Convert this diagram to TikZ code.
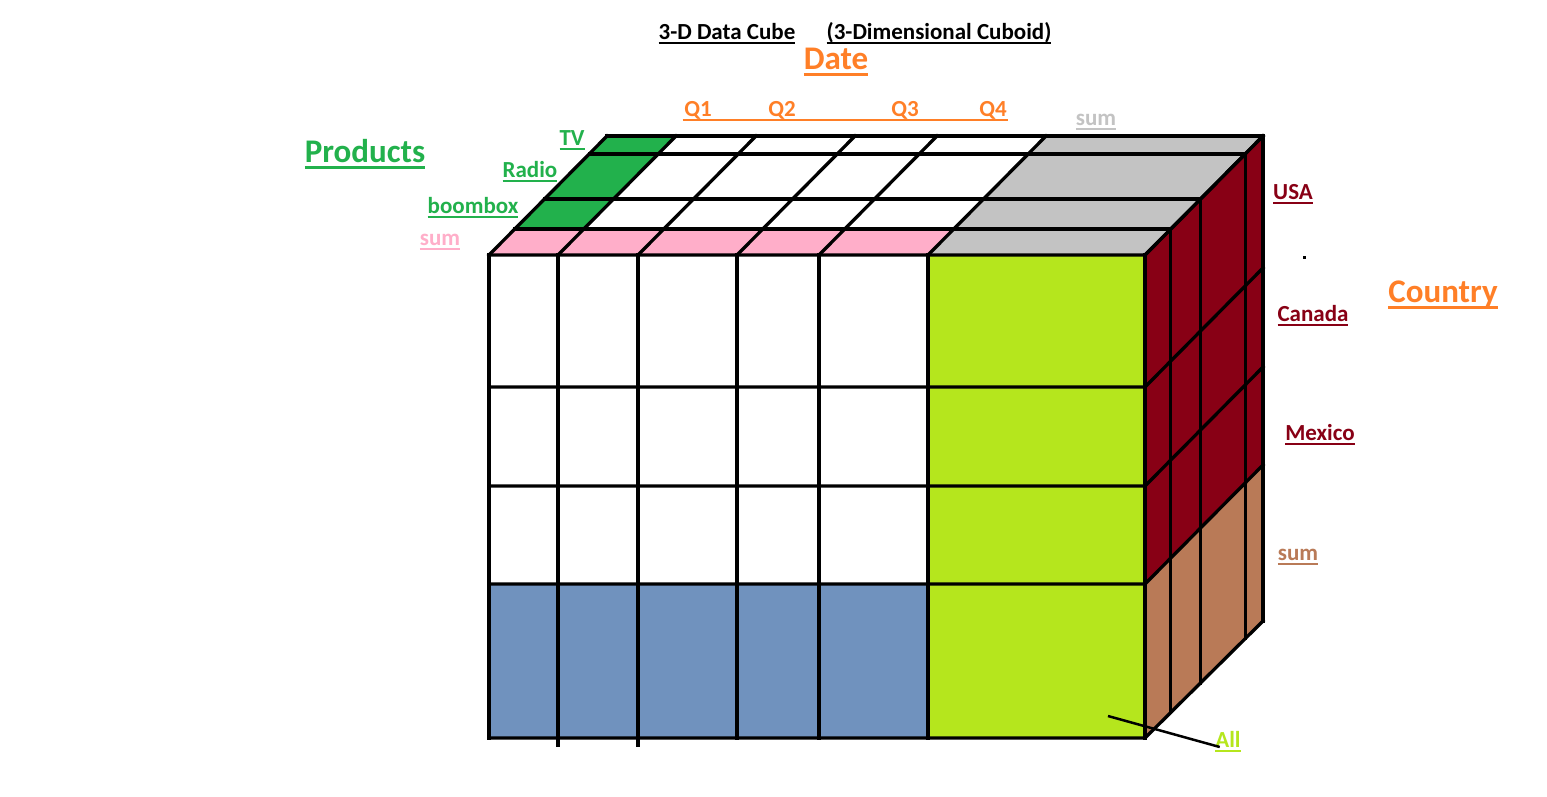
\documentclass[tikz,border=0pt]{standalone}
\usepackage{fontspec}
\setmainfont{Carlito}
\usetikzlibrary{positioning}
\definecolor{pgreen}{HTML}{22B14C}
\definecolor{ppink}{HTML}{FFAEC9}
\definecolor{pgray}{HTML}{C3C3C3}
\definecolor{plime}{HTML}{B5E61D}
\definecolor{pmaroon}{HTML}{880015}
\definecolor{pbrown}{HTML}{B97A57}
\definecolor{pblue}{HTML}{7092BE}
\definecolor{porange}{HTML}{FF7F27}
\newsavebox{\ulbox}
\newcommand{\undr}[1]{\sbox\ulbox{#1}\rlap{\rule[-5pt]{\wd\ulbox}{2pt}}\usebox\ulbox}
\newcommand{\Undr}[1]{\sbox\ulbox{#1}\rlap{\rule[-7pt]{\wd\ulbox}{3pt}}\usebox\ulbox}

\begin{document}
\begin{tikzpicture}[x=1pt, y=-1pt, line width=3.3pt, line cap=rect]
  \tikzset{
    lbl/.style={inner sep=0pt, anchor=base,
      font=\bfseries\fontsize{23}{23}\selectfont},
    big/.style={lbl, font=\bfseries\fontsize{33}{33}\selectfont},
    pointer/.style={line width=2.5pt, line cap=butt},
  }
  \fill[white] (0,0) rectangle (1547,796);
  \useasboundingbox (0,0) rectangle (1547,796);
  % Fills: front face
  \fill[pblue] (489,584) rectangle (928,738);
  \fill[plime] (928,255) rectangle (1145,738);
  % Fills: top face
  \fill[pgreen] (514.7,229.1) -- (583.7,229.1) -- (676,136) -- (607,136) -- cycle;
  \fill[ppink]  (489,255) -- (928,255) -- (953.7,229.1) -- (514.7,229.1) -- cycle;
  \fill[pgray]  (928,255) -- (1145,255) -- (1263,136) -- (1046,136) -- cycle;
  % Fills: right face
  \fill[pmaroon] (1145,255) -- (1263,136) -- (1263,465) -- (1145,584) -- cycle;
  \fill[pbrown]  (1145,584) -- (1263,465) -- (1263,621) -- (1145,738) -- cycle;
  % Grid
  \foreach \x in {489,558,638,737,819,928,1145} {
    \draw (\x,255) -- (\x,738);
    \draw (\x,255) -- ++(118,-119);
  }
  \foreach \x in {558,638} \draw (\x,738) -- ++(0,7);
  \foreach \y in {255,387,486,584}
    \draw (489,\y) -- (1145,\y) -- ++(118,-119);
  \draw (489,738) -- (1145,738) -- (1263,621);
  \foreach \f in {0.218,0.47,0.849,1}
    \draw ({489+118*\f},{255-119*\f}) -- ++(656,0) -- ++(0,{483+2*\f});
  \fill (1303,256) rectangle ++(3,3);
  % Titles
  \node[lbl] (title) at (727,39) {\undr{3-D Data Cube}};
  \node[lbl] (sub) at (939,39) {\undr{(3-Dimensional Cuboid)}};
  % Date axis
  \node[big, porange] (date) at (836,69) {\Undr{Date}};
  \node[lbl, porange] (q1) at (698,116) {Q1};
  \node[lbl, porange] (q2) at (782,116) {Q2};
  \node[lbl, porange] (q3) at (905,116) {Q3};
  \node[lbl, porange] (q4) at (993,116) {Q4};
  \draw[porange, line width=2pt, line cap=butt]
    ([yshift=-3.5pt]q1.base west) -- ([yshift=-3.5pt]q4.base east);
  \node[lbl, pgray] (dsum) at (1096,125) {\undr{sum}};
  % Products axis
  \node[big, pgreen] (prod) at (365,162) {\Undr{Products}};
  \node[lbl, pgreen] (tv) at (572,145) {\undr{TV}};
  \node[lbl, pgreen] (radio) at (530,177) {\undr{Radio}};
  \node[lbl, pgreen] (boom) at (473,213) {\undr{boombox}};
  \node[lbl, ppink] (psum) at (440,245) {\undr{sum}};
  % Country axis
  \node[big, porange] (country) at (1443,302) {\Undr{Country}};
  \node[lbl, pmaroon] (usa) at (1293,199) {\undr{USA}};
  \node[lbl, pmaroon] (canada) at (1313,321) {\undr{Canada}};
  \node[lbl, pmaroon] (mexico) at (1320,440) {\undr{Mexico}};
  \node[lbl, pbrown] (csum) at (1298,560) {\undr{sum}};
  % All
  \node[lbl, plime] (all) at (1228,747) {\undr{All}};
  \coordinate (allpt) at (1108,716);
  \draw[pointer] (allpt) -- ([xshift=6pt]all.base west);
\end{tikzpicture}
\end{document}
